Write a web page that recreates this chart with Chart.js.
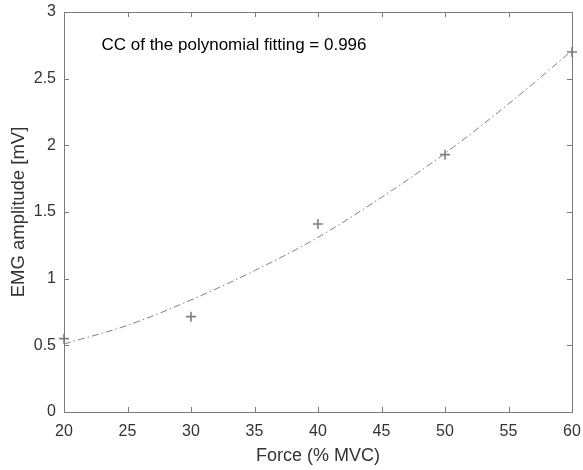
<!DOCTYPE html>
<html>
<head>
<meta charset="utf-8">
<script src="https://cdn.jsdelivr.net/npm/chart.js@4"></script>
<style>
  html, body { margin: 0; padding: 0; background: #fff; }
  #wrap { width: 583px; height: 470px; }
</style>
</head>
<body>
<div id="wrap"><canvas id="chart" width="583" height="470"></canvas></div>
<script>
// Measured EMG amplitude at each force level
const forceLevels = [20, 30, 40, 50, 60];
const emgAmplitude = [0.55, 0.715, 1.41, 1.93, 2.70];

// Polynomial fit curve
const fitForce = [20, 25, 30, 35, 40, 45, 50, 55, 60];
const fitAmplitude = [0.51, 0.65, 0.84, 1.06, 1.31, 1.61, 1.94, 2.31, 2.71];

const xTicks = [20, 25, 30, 35, 40, 45, 50, 55, 60];
const yTicks = [0, 0.5, 1, 1.5, 2, 2.5, 3];

const annotationText = 'CC of the polynomial fitting = 0.996';

const axisColor = '#7a7a7a';
const textColor = '#333333';
const fontFamily = 'Liberation Sans, Arial, sans-serif';

// MATLAB-style box with inward ticks, plus the annotation text
const boxPlugin = {
  id: 'matlabBox',
  afterDraw(chart) {
    const ctx = chart.ctx;
    const area = chart.chartArea;
    const xs = chart.scales.x;
    const ys = chart.scales.y;
    const len = 5;

    ctx.save();
    ctx.strokeStyle = axisColor;
    ctx.lineWidth = 1;
    ctx.strokeRect(area.left + 0.5, area.top + 0.5, area.right - area.left, area.bottom - area.top);

    ctx.beginPath();
    xTicks.forEach(v => {
      const px = Math.round(xs.getPixelForValue(v)) + 0.5;
      ctx.moveTo(px, area.bottom);
      ctx.lineTo(px, area.bottom - len);
      ctx.moveTo(px, area.top);
      ctx.lineTo(px, area.top + len);
    });
    yTicks.forEach(v => {
      const py = Math.round(ys.getPixelForValue(v)) + 0.5;
      ctx.moveTo(area.left, py);
      ctx.lineTo(area.left + len, py);
      ctx.moveTo(area.right, py);
      ctx.lineTo(area.right - len, py);
    });
    ctx.stroke();

    // annotation
    ctx.fillStyle = '#000';
    ctx.font = '17px ' + fontFamily;
    ctx.textBaseline = 'middle';
    ctx.textAlign = 'left';
    ctx.fillText(annotationText, xs.getPixelForValue(22.95), ys.getPixelForValue(2.75));
    ctx.restore();
  }
};

const ctx = document.getElementById('chart');

new Chart(ctx, {
  type: 'scatter',
  data: {
    datasets: [
      {
        label: 'Fit',
        type: 'line',
        data: fitForce.map((f, i) => ({ x: f, y: fitAmplitude[i] })),
        borderColor: '#808080',
        borderWidth: 1,
        borderDash: [7, 3, 1.5, 3],
        pointRadius: 0,
        cubicInterpolationMode: 'monotone',
        fill: false
      },
      {
        label: 'Measured',
        data: forceLevels.map((f, i) => ({ x: f, y: emgAmplitude[i] })),
        pointStyle: 'cross',
        pointRadius: 5,
        pointBorderWidth: 1.6,
        borderColor: '#808080',
        backgroundColor: '#808080',
        clip: false
      }
    ]
  },
  options: {
    responsive: false,
    animation: false,
    layout: { padding: { top: 12, right: 11, left: 0, bottom: 0 } },
    plugins: {
      legend: { display: false },
      tooltip: { enabled: false }
    },
    scales: {
      x: {
        type: 'linear',
        min: 20,
        max: 60,
        afterFit: scale => {
          scale.height = 58;
          scale.paddingLeft = 0;
          scale.paddingRight = 0;
        },
        afterBuildTicks: scale => { scale.ticks = xTicks.map(v => ({ value: v })); },
        grid: { display: false, drawTicks: false },
        border: { display: false },
        ticks: {
          color: textColor,
          font: { size: 16, family: fontFamily },
          padding: 10,
          maxRotation: 0,
          callback: v => String(v)
        },
        title: {
          display: true,
          text: 'Force (% MVC)',
          color: textColor,
          font: { size: 18, family: fontFamily },
          padding: { top: 0, bottom: 3 }
        }
      },
      y: {
        type: 'linear',
        min: 0,
        max: 3,
        afterFit: scale => {
          scale.width = 64;
          scale.paddingTop = 0;
          scale.paddingBottom = 0;
        },
        afterBuildTicks: scale => { scale.ticks = yTicks.map(v => ({ value: v })); },
        grid: { display: false, drawTicks: false },
        border: { display: false },
        ticks: {
          color: textColor,
          font: { size: 16, family: fontFamily },
          padding: 8,
          callback: v => String(v)
        },
        title: {
          display: true,
          text: 'EMG amplitude [mV]',
          color: textColor,
          font: { size: 18.5, family: fontFamily },
          padding: { top: 8, bottom: 0 }
        }
      }
    }
  },
  plugins: [boxPlugin]
});
</script>
</body>
</html>
